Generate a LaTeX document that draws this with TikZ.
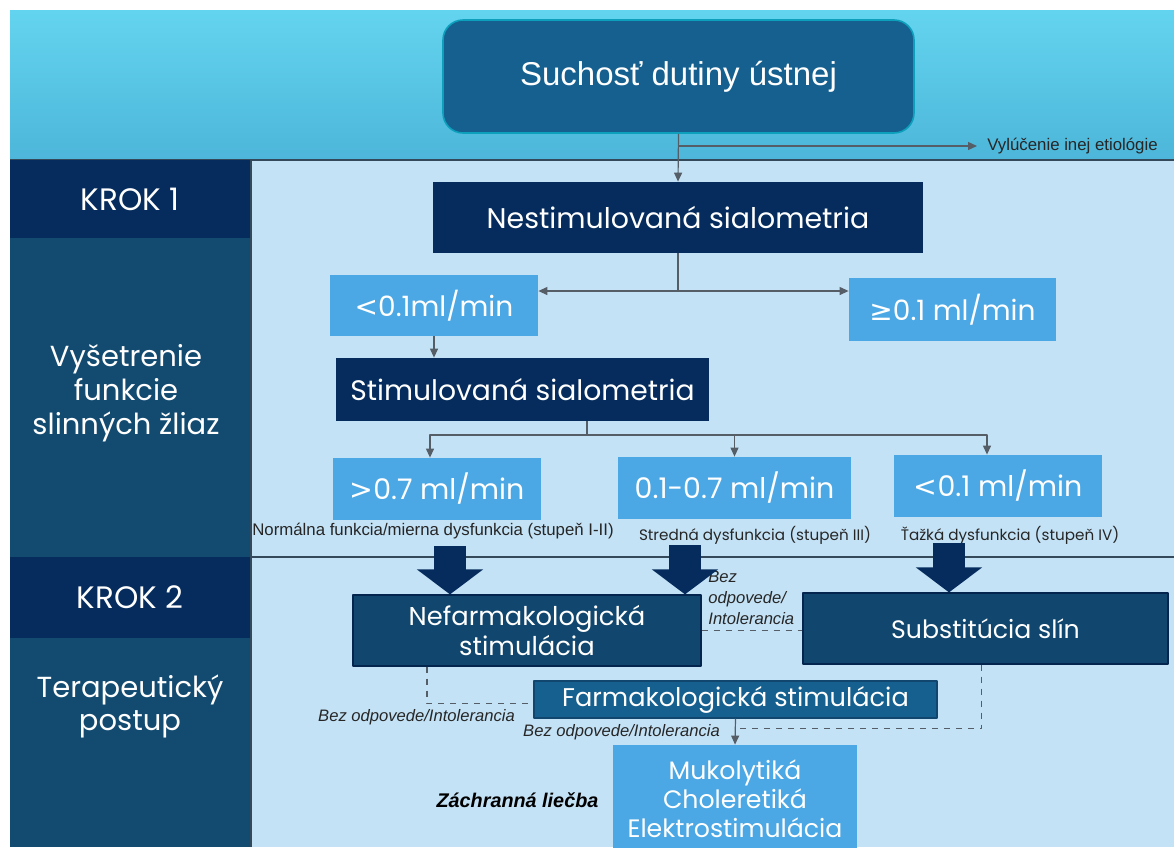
\documentclass[tikz,border=0pt]{standalone}
\usepackage{fontspec}
\setmainfont{Liberation Sans}
\newfontfamily\gothic{Poppins}
\newfontfamily\symb{DejaVu Sans}
\usetikzlibrary{arrows.meta}
\definecolor{banhi}{HTML}{63D4EF}
\definecolor{banlo}{HTML}{4DB6DA}
\definecolor{navy}{HTML}{052C5C}
\definecolor{panel}{HTML}{124A70}
\definecolor{pale}{HTML}{C4E2F6}
\definecolor{sky}{HTML}{4BA8E5}
\definecolor{sea}{HTML}{15608F}
\definecolor{deep}{HTML}{11476E}
\definecolor{linkgray}{HTML}{555D66}
\definecolor{rulegray}{HTML}{34495A}
\tikzset{fig/.style={x=0.5pt,y=-0.5pt,line join=round,>={Triangle[length=4.5pt,width=4pt]}},
 g/.style 2 args={font={\gothic\fontsize{#1}{#2}\selectfont}},
 box/.style={inner sep=0pt,text=white,align=center},
 dk/.style={box,fill=navy},
 lt/.style={box,fill=sky},
 md/.style={box,fill=deep,draw=navy!85!black,line width=0.6pt},
 link/.style={draw=linkgray,line width=0.6pt,->},
 dashlink/.style={draw=linkgray,line width=0.6pt,dashed},
 bigarrow/.style={draw=navy,line width=16pt,-{Triangle[width=32.5pt,length=12.5pt]}},
 note/.style={inner sep=0pt,text=black!85,font=\fontsize{8.4}{9}\selectfont},
 slant/.style={note,font=\itshape\fontsize{8.3}{10.5}\selectfont}}

\begin{document}
\begin{tikzpicture}[fig]
 \useasboundingbox (0,0) rectangle (1174,847);
 \fill[white] (0,0) rectangle (1174,847);
 \shade[top color=banhi,bottom color=banlo] (10,10) rectangle (1174,160);
 \fill[pale] (251,160) rectangle (1174,847);
 \fill[panel] (10,238) rectangle (250,557);\fill[panel] (10,638) rectangle (250,847);
 \draw[rulegray,line width=0.6pt] (10,160) -- (1174,160);\draw[rulegray,line width=0.6pt] (251,557) -- (1174,557);
 \draw[rulegray,line width=0.6pt] (251,160) -- (251,847);

 \node[dk,g={15.5}{17},minimum width=120pt,minimum height=39pt] (step1) at (130,199) {KROK 1};
 \node[box,g={14.5}{17}] (exam) at (126,393) {Vyšetrenie\\funkcie\\slinných žliaz};
 \node[dk,g={15.5}{17},minimum width=120pt,minimum height=40.5pt] (step2) at (130,597.5) {KROK 2};
 \node[box,g={14.5}{16.5}] (therapy) at (130,706) {Terapeutický\\postup};

 \node[box,font=\fontsize{16.5}{20}\selectfont,fill=sea,draw=sea!60!cyan,line width=0.8pt,rounded corners=10pt,minimum width=235.5pt,minimum height=56.5pt] (dry) at (678.5,76.5) {Suchosť dutiny ústnej};
 \node[note,anchor=west] (excl) at (987,146) {Vylúčenie inej etiológie};
 \node[dk,g={14.2}{16},minimum width=245pt,minimum height=35.5pt] (unstim) at (678,217.5) {Nestimulovaná sialometria};
 \node[lt,g={14}{16},minimum width=104pt,minimum height=30.5pt] (lowA) at (434,305.5) {{\symb<}0.1ml/min};
 \node[lt,g={14}{16},minimum width=103.5pt,minimum height=31.5pt] (highA) at (952.5,309.5) {{\symb ≥}0.1 ml/min};
 \node[dk,g={14.1}{16},minimum width=186.5pt,minimum height=31.5pt] (stim) at (522.5,389.5) {Stimulovaná sialometria};
 \node[lt,g={14.2}{16},minimum width=104pt,minimum height=31pt] (rateA) at (437,489) {{\symb>}0.7 ml/min};
 \node[lt,g={14.2}{16},minimum width=116.5pt,minimum height=31pt] (rateB) at (734.5,488) {0.1-0.7 ml/min};
 \node[lt,g={14.2}{16},minimum width=104pt,minimum height=31pt] (rateC) at (998,486) {{\symb<}0.1 ml/min};
 \node[note] (gradeA) at (433,531) {Normálna funkcia/mierna dysfunkcia (stupeň I-II)};
 \node[note,g={7.6}{9}] (gradeB) at (755,535) {Stredná dysfunkcia (stupeň III)};
 \node[note,g={7.6}{9}] (gradeC) at (1010,535) {Ťažká dysfunkcia (stupeň IV)};

 \node[md,g={12.9}{15},minimum width=174pt,minimum height=35.5pt] (nonph) at (527,630.5) {Nefarmakologická\\stimulácia};
 \node[md,g={12.6}{15},minimum width=182.5pt,minimum height=35.5pt] (subst) at (985.5,628.5) {Substitúcia slín};
 \node[box,fill=sea,draw=deep,line width=0.6pt,g={12.8}{15},minimum width=201.5pt,minimum height=18.5pt] (pharm) at (735.5,699.5) {Farmakologická stimulácia};
 \node[lt,g={12.6}{14.5},minimum width=122pt,minimum height=54pt] (rescue) at (735,799) {Mukolytiká\\Choleretiká\\Elektrostimulácia};
 \node[slant,align=left,anchor=north west] (nores1) at (708,571) {Bez\\odpovede/\\Intolerancia};
 \node[slant] (nores2) at (416.5,717) {Bez odpovede/Intolerancia};
 \node[slant] (nores3) at (621.5,732) {Bez odpovede/Intolerancia};
 \node[note,font=\bfseries\itshape\fontsize{9.9}{11}\selectfont,text=black] (salv) at (517.5,800) {Záchranná liečba};

 \draw[link] (dry.south) -- (unstim.north);
 \draw[link] (dry.south |- excl) -- ([xshift=-5pt]excl.west);
 \coordinate (fork) at (678,291);
 \draw[link,-] (unstim.south) -- (fork);
 \draw[link] (fork) -- (fork -| lowA.east);
 \draw[link] (fork) -- (fork -| highA.west);
 \draw[link] (lowA.south) -- (lowA.south |- stim.north);
 \coordinate (sfork) at (587,435);
 \draw[link,-] (stim.south -| sfork) -- (sfork);
 \draw[link] (sfork) -| ([xshift=-3.5pt]rateA.north);
 \draw[link] (sfork) -| ([xshift=-5.5pt]rateC.north);
 \draw[link] (sfork -| rateB.north) -- (rateB.north);

 \coordinate (a1) at (450,546);\coordinate (a2) at (685,545);\coordinate (a3) at (949,543);
 \draw[bigarrow] (a1) -- (a1 |- nonph.north);
 \draw[bigarrow] (a2) -- (a2 |- nonph.north);
 \draw[bigarrow] (a3) -- (a3 |- subst.north);

 \draw[dashlink] (nonph.east) -- (nonph.east -| subst.west);
 \draw[dashlink] ([xshift=-50pt]nonph.south) |- ([yshift=-2pt]pharm.west);
 \coordinate (join) at ([yshift=-5pt]pharm.south);
 \draw[dashlink] ([xshift=-2pt]subst.south) |- (join);
 \draw[link] (pharm.south) -- (rescue.north);
\end{tikzpicture}
\end{document}
